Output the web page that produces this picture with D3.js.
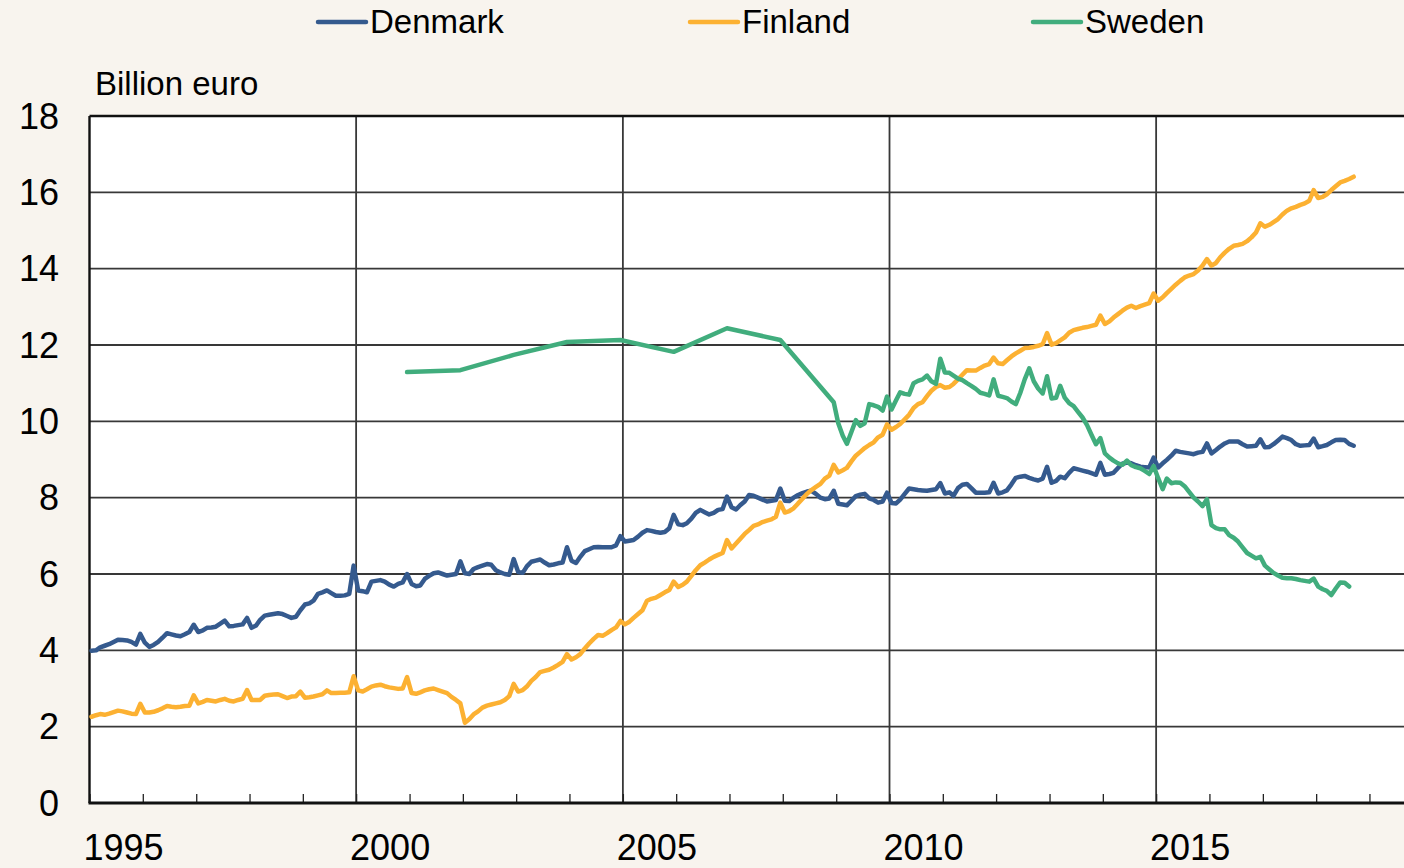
<!DOCTYPE html>
<html>
<head>
<meta charset="utf-8">
<script src="https://cdn.jsdelivr.net/npm/d3@7"></script>
<style>
  html, body { margin: 0; padding: 0; background: #f8f4ee; }
  #viz { width: 1404px; height: 868px; overflow: hidden; }
  text { font-family: "Liberation Sans", Arial, sans-serif; fill: #000; }
</style>
</head>
<body>
<div id="viz"></div>
<script>
// monthly series, Jan 1995 .. Sep 2018
const denmark = [
  3.99, 4.00, 4.08, 4.12, 4.16, 4.22, 4.28, 4.27, 4.26, 4.22, 4.15, 4.43,
  4.20, 4.09, 4.14, 4.22, 4.33, 4.45, 4.42, 4.39, 4.37, 4.42, 4.48, 4.67,
  4.48, 4.52, 4.59, 4.60, 4.62, 4.70, 4.78, 4.63, 4.64, 4.66, 4.68, 4.85,
  4.59, 4.65, 4.80, 4.91, 4.93, 4.95, 4.97, 4.95, 4.90, 4.85, 4.88, 5.05,
  5.20, 5.23, 5.30, 5.48, 5.52, 5.57, 5.50, 5.43, 5.43, 5.44, 5.48, 6.22,
  5.57, 5.55, 5.52, 5.80, 5.82, 5.84, 5.80, 5.72, 5.67, 5.74, 5.78, 6.00,
  5.74, 5.68, 5.70, 5.87, 5.95, 6.02, 6.04, 6.00, 5.96, 5.98, 6.00, 6.33,
  6.02, 6.00, 6.13, 6.18, 6.22, 6.26, 6.24, 6.10, 6.04, 6.00, 5.98, 6.39,
  6.05, 6.03, 6.20, 6.32, 6.35, 6.38, 6.30, 6.23, 6.25, 6.28, 6.30, 6.70,
  6.35, 6.29, 6.45, 6.60, 6.65, 6.70, 6.71, 6.70, 6.70, 6.70, 6.75, 6.99,
  6.85, 6.87, 6.89, 6.98, 7.08, 7.15, 7.13, 7.10, 7.08, 7.10, 7.20, 7.55,
  7.30, 7.28, 7.33, 7.45, 7.60, 7.68, 7.62, 7.56, 7.60, 7.68, 7.70, 8.03,
  7.75, 7.69, 7.80, 7.90, 8.07, 8.05, 8.00, 7.95, 7.90, 7.92, 7.94, 8.24,
  7.92, 7.91, 8.00, 8.07, 8.12, 8.16, 8.18, 8.10, 8.00, 7.96, 7.98, 8.18,
  7.84, 7.82, 7.80, 7.92, 8.04, 8.08, 8.10, 7.98, 7.94, 7.87, 7.90, 8.13,
  7.86, 7.85, 7.95, 8.10, 8.24, 8.22, 8.20, 8.19, 8.18, 8.20, 8.22, 8.38,
  8.11, 8.14, 8.05, 8.25, 8.34, 8.36, 8.25, 8.13, 8.13, 8.13, 8.14, 8.39,
  8.11, 8.14, 8.19, 8.35, 8.52, 8.55, 8.57, 8.52, 8.48, 8.45, 8.50, 8.81,
  8.39, 8.44, 8.55, 8.51, 8.65, 8.77, 8.74, 8.71, 8.68, 8.64, 8.60, 8.91,
  8.60, 8.62, 8.65, 8.78, 8.89, 8.92, 8.90, 8.85, 8.81, 8.80, 8.79, 9.05,
  8.79, 8.90, 8.99, 9.10, 9.23, 9.20, 9.18, 9.16, 9.14, 9.18, 9.20, 9.42,
  9.16, 9.25, 9.34, 9.42, 9.47, 9.47, 9.47, 9.40, 9.34, 9.35, 9.36, 9.53,
  9.32, 9.33, 9.40, 9.50, 9.60, 9.56, 9.51, 9.40, 9.36, 9.37, 9.38, 9.55,
  9.32, 9.35, 9.38, 9.45, 9.51, 9.52, 9.51, 9.41, 9.36
];

const finland = [
  2.26, 2.30, 2.33, 2.31, 2.34, 2.38, 2.42, 2.40, 2.37, 2.34, 2.33, 2.60,
  2.37, 2.37, 2.39, 2.43, 2.48, 2.54, 2.52, 2.51, 2.52, 2.54, 2.55, 2.82,
  2.61, 2.65, 2.70, 2.68, 2.66, 2.70, 2.73, 2.68, 2.66, 2.70, 2.73, 2.96,
  2.70, 2.70, 2.70, 2.81, 2.83, 2.84, 2.85, 2.80, 2.75, 2.79, 2.80, 2.92,
  2.76, 2.77, 2.79, 2.82, 2.85, 2.95, 2.88, 2.88, 2.89, 2.89, 2.90, 3.32,
  2.95, 2.92, 2.98, 3.05, 3.08, 3.10, 3.06, 3.03, 3.01, 2.99, 3.00, 3.30,
  2.88, 2.86, 2.90, 2.95, 2.98, 3.00, 2.96, 2.92, 2.88, 2.78, 2.70, 2.61,
  2.10, 2.20, 2.32, 2.40, 2.50, 2.55, 2.58, 2.61, 2.64, 2.70, 2.80, 3.12,
  2.92, 2.96, 3.05, 3.20, 3.30, 3.43, 3.46, 3.49, 3.55, 3.62, 3.70, 3.90,
  3.76, 3.82, 3.90, 4.05, 4.18, 4.30, 4.40, 4.38, 4.45, 4.53, 4.60, 4.77,
  4.68, 4.75, 4.85, 4.95, 5.05, 5.30, 5.35, 5.38, 5.45, 5.52, 5.58, 5.80,
  5.66, 5.72, 5.80, 5.95, 6.10, 6.23, 6.30, 6.38, 6.45, 6.50, 6.55, 6.89,
  6.67, 6.80, 6.92, 7.05, 7.15, 7.26, 7.30, 7.36, 7.40, 7.43, 7.50, 7.87,
  7.61, 7.65, 7.72, 7.85, 7.97, 8.10, 8.20, 8.28, 8.36, 8.50, 8.58, 8.86,
  8.66, 8.72, 8.78, 8.95, 9.10, 9.20, 9.30, 9.38, 9.45, 9.58, 9.65, 9.92,
  9.78, 9.85, 9.93, 10.05, 10.17, 10.35, 10.45, 10.50, 10.66, 10.80, 10.90, 10.95,
  10.88, 10.90, 10.98, 11.10, 11.22, 11.34, 11.33, 11.33, 11.40, 11.46, 11.50, 11.67,
  11.52, 11.50, 11.60, 11.70, 11.78, 11.85, 11.92, 11.93, 11.95, 11.98, 12.02, 12.31,
  12.01, 12.05, 12.12, 12.20, 12.32, 12.39, 12.42, 12.45, 12.47, 12.50, 12.53, 12.77,
  12.55, 12.62, 12.72, 12.81, 12.90, 12.98, 13.03, 12.97, 13.02, 13.06, 13.10, 13.35,
  13.16, 13.25, 13.36, 13.47, 13.58, 13.68, 13.77, 13.82, 13.86, 13.95, 14.08, 14.25,
  14.08, 14.15, 14.30, 14.42, 14.52, 14.60, 14.62, 14.65, 14.72, 14.82, 14.95, 15.19,
  15.10, 15.15, 15.22, 15.30, 15.42, 15.52, 15.58, 15.62, 15.67, 15.71, 15.78, 16.06,
  15.85, 15.88, 15.95, 16.06, 16.16, 16.26, 16.30, 16.35, 16.41
];

// Sweden: December values 2000..2008, then monthly from Jan 2009 to Aug 2018
const swedenYears = [2000, 2001, 2002, 2003, 2004, 2005, 2006, 2007, 2008];
const swedenAnnual = [11.29, 11.34, 11.74, 12.08, 12.13, 11.82, 12.44, 12.13, 10.50];
const swedenMonthly = [
  9.95, 9.62, 9.41, 9.72, 10.03, 9.88, 9.95, 10.45, 10.42, 10.38, 10.28, 10.65,
  10.31, 10.55, 10.76, 10.72, 10.70, 11.00, 11.06, 11.10, 11.20, 11.05, 10.98, 11.64,
  11.28, 11.27, 11.20, 11.12, 11.08, 11.00, 10.93, 10.85, 10.75, 10.72, 10.68, 11.10,
  10.67, 10.64, 10.61, 10.52, 10.45, 10.75, 11.10, 11.39, 11.05, 10.86, 10.73, 11.18,
  10.60, 10.62, 10.93, 10.62, 10.48, 10.40, 10.25, 10.10, 9.90, 9.65, 9.40, 9.56,
  9.16, 9.05, 8.97, 8.90, 8.86, 8.97, 8.85, 8.80, 8.77, 8.70, 8.62, 8.83,
  8.51, 8.22, 8.50, 8.38, 8.40, 8.39, 8.30, 8.15, 8.00, 7.90, 7.78, 7.96,
  7.28, 7.20, 7.17, 7.17, 7.02, 6.95, 6.85, 6.70, 6.55, 6.48, 6.41, 6.45,
  6.22, 6.12, 6.03, 5.96, 5.90, 5.89, 5.89, 5.87, 5.84, 5.82, 5.80, 5.88,
  5.67, 5.60, 5.56, 5.45, 5.62, 5.78, 5.77, 5.67
];

const seriesNames = ['Denmark', 'Finland', 'Sweden'];
const seriesColors = ['#355a8e', '#fcb132', '#41ad7d'];
const yTicks = [0, 2, 4, 6, 8, 10, 12, 14, 16, 18];
const yearLabels = [1995, 2000, 2005, 2010, 2015];

const width = 1404;
const height = 868;
const plotLeft = 89.5;
const plotTop = 116;
const plotBottom = 803;

const svg = d3.select('#viz')
      .append('svg:svg')
      .attr('width', width)
      .attr('height', height);

svg.append('svg:rect')
    .attr('width', width)
    .attr('height', height)
    .attr('fill', '#f8f4ee');

const x = d3.scaleTime()
      .domain([new Date(1995, 0, 1), new Date(2020, 0, 1)])
      .range([plotLeft, plotLeft + 25 * 53.33]);

const y = d3.scaleLinear()
      .domain([0, 18])
      .range([plotBottom, plotTop]);

const monthly = (vals, y0, m0) => vals.map((v, i) => ({ date: new Date(y0, m0 + i, 15), value: v }));

const swedenData = swedenAnnual
      .map((v, i) => ({ date: new Date(swedenYears[i], 11, 15), value: v }))
      .concat(monthly(swedenMonthly, 2009, 0));

const series = [monthly(denmark, 1995, 0), monthly(finland, 1995, 0), swedenData];

// plot area
svg.append('svg:rect')
    .attr('x', plotLeft)
    .attr('y', plotTop)
    .attr('width', width - plotLeft)
    .attr('height', plotBottom - plotTop)
    .attr('fill', 'white');

const grid = svg.append('svg:g')
      .attr('stroke', '#383838')
      .attr('stroke-width', 1.8);

grid.selectAll('line.h')
    .data(yTicks.filter(d => d > 0 && d < 18))
    .join('line')
    .attr('class', 'h')
    .attr('x1', plotLeft)
    .attr('x2', width)
    .attr('y1', d => y(d))
    .attr('y2', d => y(d));

grid.selectAll('line.v')
    .data(yearLabels.slice(1))
    .join('line')
    .attr('class', 'v')
    .attr('x1', d => x(new Date(d, 0, 1)))
    .attr('x2', d => x(new Date(d, 0, 1)))
    .attr('y1', plotTop)
    .attr('y2', plotBottom);

// yearly minor ticks
const xAxis = d3.axisBottom(x)
      .ticks(d3.timeYear.every(1))
      .tickSize(-9)
      .tickFormat('');

svg.append('svg:g')
    .attr('transform', `translate(0 ${plotBottom})`)
    .call(xAxis)
    .call(g => g.select('.domain').remove())
    .selectAll('line')
    .attr('stroke', '#222')
    .attr('stroke-width', 1.3);

// frame
svg.append('svg:line')
    .attr('x1', plotLeft).attr('x2', width)
    .attr('y1', plotTop).attr('y2', plotTop)
    .attr('stroke', '#111').attr('stroke-width', 2.4);
svg.append('svg:line')
    .attr('x1', plotLeft).attr('x2', plotLeft)
    .attr('y1', plotTop).attr('y2', plotBottom)
    .attr('stroke', '#111').attr('stroke-width', 2.4);
svg.append('svg:line')
    .attr('x1', plotLeft - 1).attr('x2', width)
    .attr('y1', plotBottom).attr('y2', plotBottom)
    .attr('stroke', '#111').attr('stroke-width', 2.8);

// lines
const line = d3.line()
      .x(d => x(d.date))
      .y(d => y(d.value));

svg.append('svg:g')
    .selectAll('path')
    .data(series)
    .join('path')
    .attr('d', line)
    .attr('fill', 'none')
    .attr('stroke', (d, i) => seriesColors[i])
    .attr('stroke-width', 4.5)
    .attr('stroke-linejoin', 'round')
    .attr('stroke-linecap', 'round');

// y labels
svg.append('svg:g')
    .selectAll('text')
    .data(yTicks)
    .join('text')
    .attr('x', 59)
    .attr('y', d => y(d))
    .attr('dy', '0.35em')
    .attr('text-anchor', 'end')
    .attr('font-size', 36)
    .text(d => d);

// x labels
svg.append('svg:g')
    .selectAll('text')
    .data(yearLabels)
    .join('text')
    .attr('x', d => x(new Date(d, 0, 1)) + 34)
    .attr('y', 860)
    .attr('text-anchor', 'middle')
    .attr('font-size', 36)
    .text(d => d);

svg.append('svg:text')
    .attr('x', 95)
    .attr('y', 95)
    .attr('font-size', 33)
    .text('Billion euro');

// legend
const legendX = [318, 690, 1033];
const legend = svg.append('svg:g')
      .selectAll('g')
      .data(seriesNames)
      .join('g')
      .attr('transform', (d, i) => `translate(${legendX[i]} 22)`);

legend.append('line')
    .attr('x1', 0)
    .attr('x2', 48)
    .attr('stroke', (d, i) => seriesColors[i])
    .attr('stroke-width', 4.5)
    .attr('stroke-linecap', 'round');

legend.append('text')
    .attr('x', 52)
    .attr('y', 11)
    .attr('font-size', 33)
    .text(d => d);
</script>
</body>
</html>
